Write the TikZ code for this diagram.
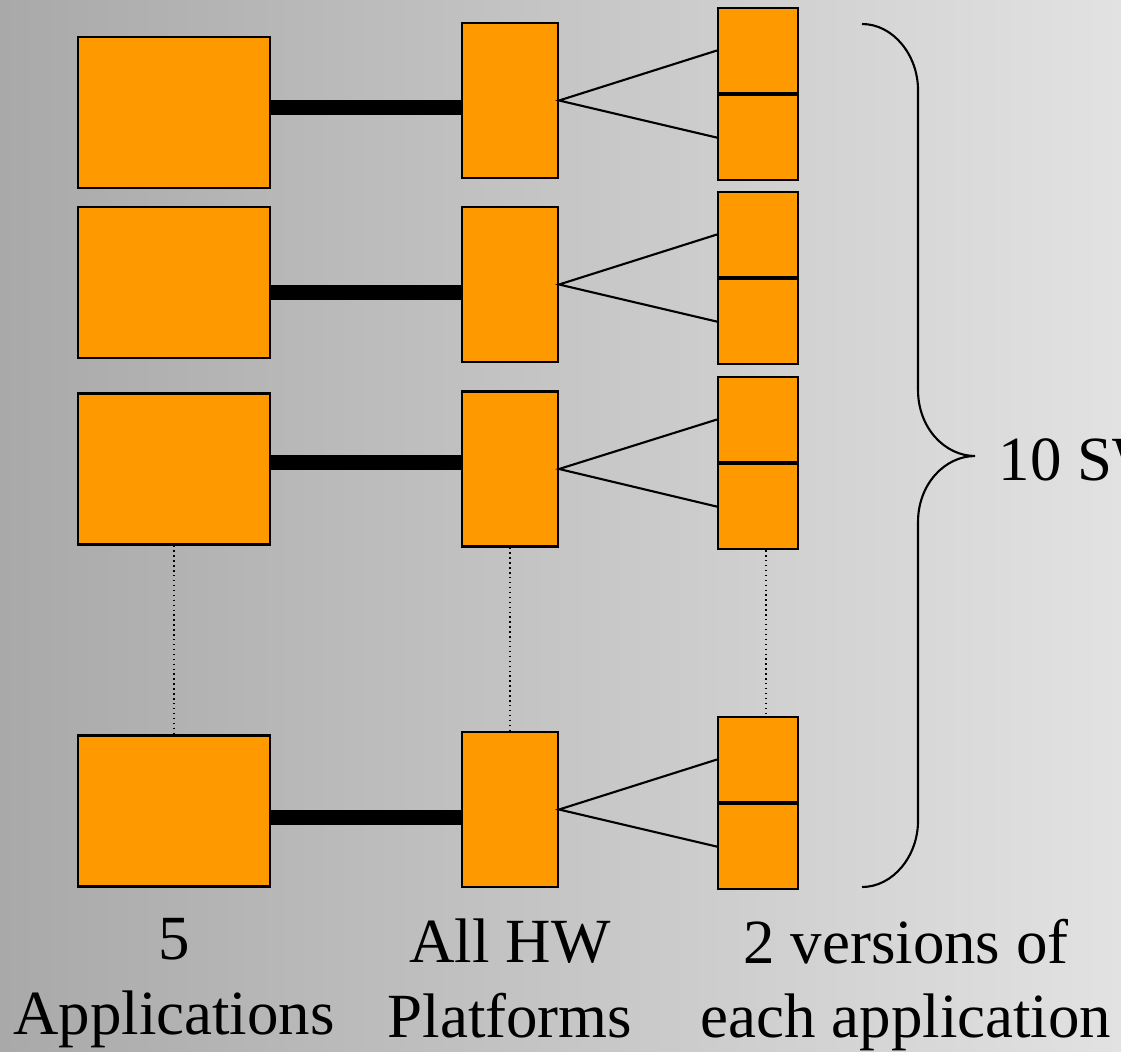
\documentclass[tikz,border=0pt]{standalone}
\usepackage{fontspec}
\setmainfont{Liberation Serif}
\usepackage{tikz}
\usetikzlibrary{positioning, calc}
\usepackage{xcolor}
\definecolor{boxorange}{HTML}{FF9900}
\definecolor{bgleft}{HTML}{A9A9A9}
\definecolor{bgright}{HTML}{E2E2E2}

\begin{document}
\begin{tikzpicture}[
        box/.style={draw=black, fill=boxorange, line width=0.6pt, inner sep=0pt},
        app/.style={box, minimum width=1.92cm, minimum height=1.51cm},
        hw/.style={box, minimum width=0.96cm, minimum height=1.55cm},
        ver/.style={box, minimum width=0.80cm, minimum height=0.85cm},
        link/.style={line width=0.15cm},
        fan/.style={line width=0.6pt},
        dots/.style={densely dotted, line width=0.4pt},
        txt/.style={font=\fontsize{17.9pt}{21.3pt}\selectfont, align=center, inner sep=0pt}]
        % Background
        \useasboundingbox (0,0) rectangle (11.21,-10.51);
        \shade[left color=bgleft, right color=bgright] (0,0) rectangle (11.21,-10.51);

        % Applications
        \node[app] (app1) at (1.74,-1.125) {};
        \node[app] (app2) at (1.74,-2.825) {};
        \node[app] (app3) at (1.74,-4.69) {};
        \node[app] (app4) at (1.74,-8.11) {};

        % HW platforms
        \node[hw] (hw1) at (5.10,-1.005) {};
        \node[hw] (hw2) at (5.10,-2.845) {};
        \node[hw] (hw3) at (5.10,-4.69) {};
        \node[hw] (hw4) at (5.10,-8.095) {};

        % Versions
        \node[ver] (ver1a) at (7.58,-0.505) {};
        \node[ver, below=0pt of ver1a] (ver1b) {};
        \node[ver] (ver2a) at (7.58,-2.345) {};
        \node[ver, below=0pt of ver2a] (ver2b) {};
        \node[ver] (ver3a) at (7.58,-4.195) {};
        \node[ver, below=0pt of ver3a] (ver3b) {};
        \node[ver] (ver4a) at (7.58,-7.595) {};
        \node[ver, below=0pt of ver4a] (ver4b) {};

        % Links application -> platform
        \draw[link] (app1.east |- 0,-1.075) -- (hw1.west |- 0,-1.075);
        \draw[link] (app2.east |- 0,-2.925) -- (hw2.west |- 0,-2.925);
        \draw[link] (app3.east |- 0,-4.625) -- (hw3.west |- 0,-4.625);
        \draw[link] (app4.east |- 0,-8.175) -- (hw4.west |- 0,-8.175);

        % Fan platform -> versions
        \draw[fan] (ver1a.west) -- (hw1.east) -- (ver1b.west);
        \draw[fan] (ver2a.west) -- (hw2.east) -- (ver2b.west);
        \draw[fan] (ver3a.west) -- (hw3.east) -- (ver3b.west);
        \draw[fan] (ver4a.west) -- (hw4.east) -- (ver4b.west);

        % Skipped rows
        \draw[dots] (app3.south) -- (app4.north);
        \draw[dots] (hw3.south) -- (hw4.north);
        \draw[dots] ([xshift=0.08cm]ver3b.south) -- ([xshift=0.08cm]ver4a.north);

        % Brace
        \draw[fan] (8.62,-0.24) .. controls (8.93,-0.24) and (9.18,-0.55) .. (9.18,-0.90)
            -- (9.18,-3.90) .. controls (9.18,-4.28) and (9.45,-4.56) .. (9.75,-4.56)
            .. controls (9.45,-4.56) and (9.18,-4.84) .. (9.18,-5.22)
            -- (9.18,-8.21) .. controls (9.18,-8.56) and (8.93,-8.87) .. (8.62,-8.87);
        \node[txt, anchor=base west] (total) at (9.98,-4.80) {10 SW};

        % Column captions
        \node[txt, anchor=north] (capapp) at (1.74,-9.18) {5\\Applications};
        \node[txt, anchor=north] (caphw) at (5.10,-9.18) {All HW\\Platforms};
        \node[txt, anchor=north] (capver) at (9.06,-9.18) {2 versions of\\each application};

    \end{tikzpicture}
\end{document}
